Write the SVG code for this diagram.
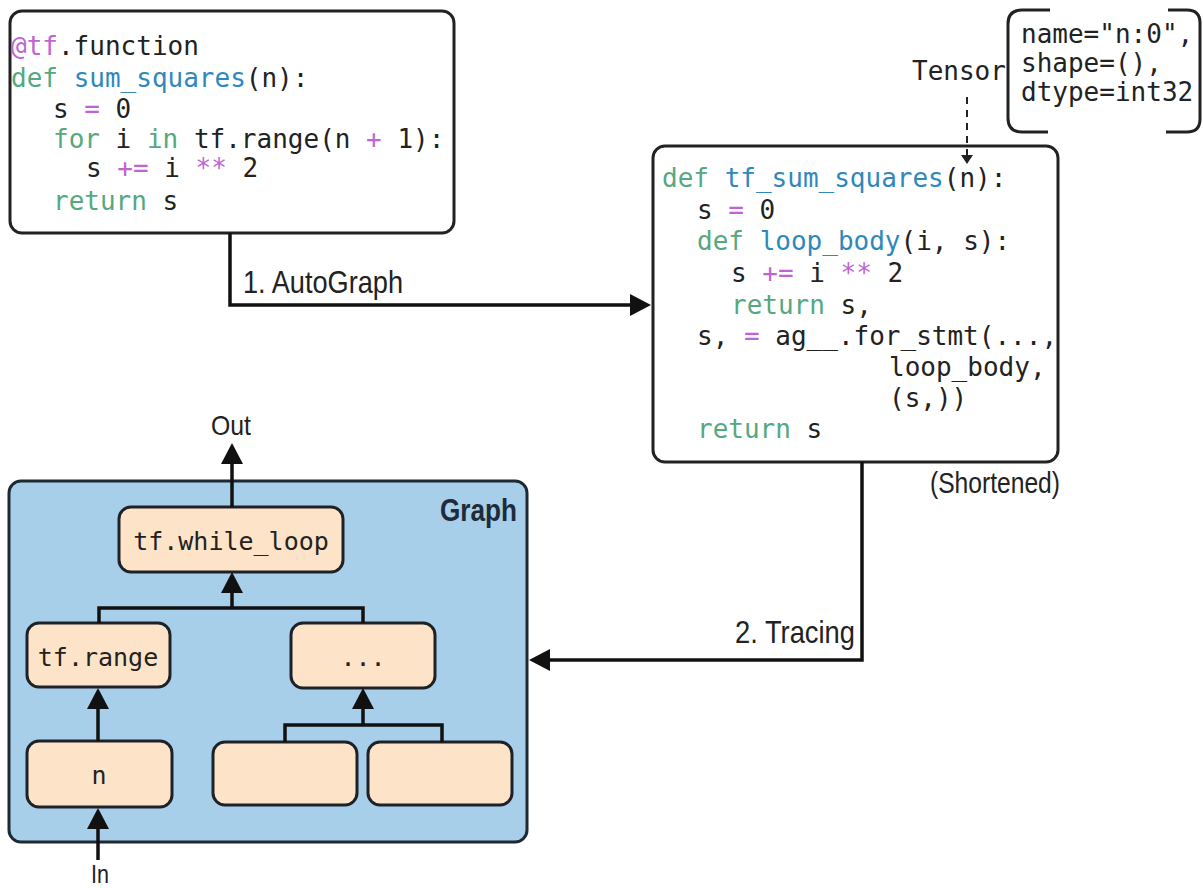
<svg xmlns="http://www.w3.org/2000/svg" width="1203" height="888" viewBox="0 0 1203 888">
<style>
.box{fill:#fff;stroke:#222;stroke-width:3}
.code{font-family:"DejaVu Sans Mono","Liberation Mono",monospace;font-size:26px;fill:#222;white-space:pre}
.k{fill:#55a880}
.f{fill:#2f88bb}
.p{fill:#c064d4}
.lbl{font-family:"Liberation Sans",Arial,sans-serif;fill:#222}
.node{fill:#fde4c8;stroke:#1e2228;stroke-width:3}
.ntext{font-family:"DejaVu Sans Mono","Liberation Mono",monospace;font-size:25px;fill:#222;text-anchor:middle}
.con{fill:none;stroke:#111;stroke-width:3.5}
</style>
<defs>
<marker id="ah" markerUnits="userSpaceOnUse" markerWidth="24" markerHeight="24" viewBox="0 0 24 24" refX="15" refY="12" orient="auto">
<path d="M0,1 L21,12 L0,23 z" fill="#111"/>
</marker>
</defs>

<g id="code1">
<rect class="box" x="10" y="11" width="444" height="222" rx="12"/>
<text class="code" x="11" y="55"><tspan class="p">@tf</tspan>.function</text>
<text class="code" x="11" y="87"><tspan class="k">def</tspan> <tspan class="f">sum_squares</tspan>(n):</text>
<text class="code" x="53" y="118">s <tspan class="p">=</tspan> 0</text>
<text class="code" x="53" y="148"><tspan class="k">for</tspan> i <tspan class="k">in</tspan> tf.range(n <tspan class="p">+</tspan> 1):</text>
<text class="code" x="86" y="177">s <tspan class="p">+=</tspan> i <tspan class="p">**</tspan> 2</text>
<text class="code" x="53" y="210"><tspan class="k">return</tspan> s</text>
</g>

<g id="code2">
<rect class="box" x="653" y="146" width="405" height="316" rx="12"/>
<text class="code" x="662" y="187"><tspan class="k">def</tspan> <tspan class="f">tf_sum_squares</tspan>(n):</text>
<text class="code" x="697" y="219">s <tspan class="p">=</tspan> 0</text>
<text class="code" x="697" y="250"><tspan class="k">def</tspan> <tspan class="f">loop_body</tspan>(i, s):</text>
<text class="code" x="731" y="282">s <tspan class="p">+=</tspan> i <tspan class="p">**</tspan> 2</text>
<text class="code" x="731" y="314"><tspan class="k">return</tspan> s,</text>
<text class="code" x="697" y="345">s, <tspan class="p">=</tspan> ag__.for_stmt(...,</text>
<text class="code" x="889" y="376">loop_body,</text>
<text class="code" x="889" y="407">(s,))</text>
<text class="code" x="697" y="438"><tspan class="k">return</tspan> s</text>
<text class="lbl" x="930" y="493" font-size="30" textLength="130" lengthAdjust="spacingAndGlyphs">(Shortened)</text>
</g>

<g id="tensor">
<text class="code" x="912" y="80" font-size="24.5">Tensor</text>
<path d="M1050,10 H1022 Q1008,10 1008,24 V118 Q1008,132 1022,132 H1048" fill="none" stroke="#222" stroke-width="3"/>
<path d="M1168,10 H1187 Q1200,10 1200,23 V119 Q1200,132 1187,132 H1166" fill="none" stroke="#222" stroke-width="3"/>
<text class="code" x="1021" y="43">name="n:0",</text>
<text class="code" x="1021" y="72">shape=(),</text>
<text class="code" x="1021" y="101">dtype=int32</text>
<path d="M967,97 V156" fill="none" stroke="#222" stroke-width="2" stroke-dasharray="7,6"/>
<path d="M961,155 H973 L967,164 z" fill="#222"/>
</g>

<g id="graph">
<rect x="9" y="481" width="518" height="361" rx="12" fill="#a8cfe9" stroke="#1e2933" stroke-width="3"/>
<text class="lbl" x="440" y="521" font-size="32" font-weight="bold" textLength="77" lengthAdjust="spacingAndGlyphs" style="fill:#1d2b3a">Graph</text>
</g>

<g id="while_loop">
<rect class="node" x="119" y="507" width="224" height="65" rx="12"/>
<text class="ntext" x="231" y="550">tf.while_loop</text>
</g>
<g id="tf_range">
<rect class="node" x="27" y="623" width="143" height="64" rx="12"/>
<text class="ntext" x="98" y="666">tf.range</text>
</g>
<g id="dots">
<rect class="node" x="291" y="623" width="144" height="65" rx="12"/>
<text class="ntext" x="363" y="666">...</text>
</g>
<g id="n_node">
<rect class="node" x="27" y="741" width="145" height="66" rx="12"/>
<text class="ntext" x="99" y="784">n</text>
</g>
<g id="blank1">
<rect class="node" x="213" y="742" width="144" height="63" rx="12"/>
</g>
<g id="blank2">
<rect class="node" x="368" y="742" width="144" height="63" rx="12"/>
</g>

<g id="connectors">
<path class="con" d="M230,233 V305 H645" marker-end="url(#ah)"/>
<text class="lbl" x="243" y="293" font-size="32" textLength="160" lengthAdjust="spacingAndGlyphs">1. AutoGraph</text>
<path class="con" d="M862,462 V660 H535" marker-end="url(#ah)"/>
<text class="lbl" x="735" y="643" font-size="32" textLength="120" lengthAdjust="spacingAndGlyphs">2. Tracing</text>
<path class="con" d="M232,507 V449" marker-end="url(#ah)"/>
<text class="lbl" x="211" y="435" font-size="28" textLength="40" lengthAdjust="spacingAndGlyphs">Out</text>
<path class="con" d="M99,623 V608 H363 V623"/>
<path class="con" d="M232,608 V578" marker-end="url(#ah)"/>
<path class="con" d="M98,741 V694" marker-end="url(#ah)"/>
<path class="con" d="M285,742 V725 H442 V742"/>
<path class="con" d="M363,725 V694" marker-end="url(#ah)"/>
<path class="con" d="M98,860 V814" marker-end="url(#ah)"/>
<text class="lbl" x="91" y="883" font-size="26" textLength="18" lengthAdjust="spacingAndGlyphs">In</text>
</g>
</svg>
